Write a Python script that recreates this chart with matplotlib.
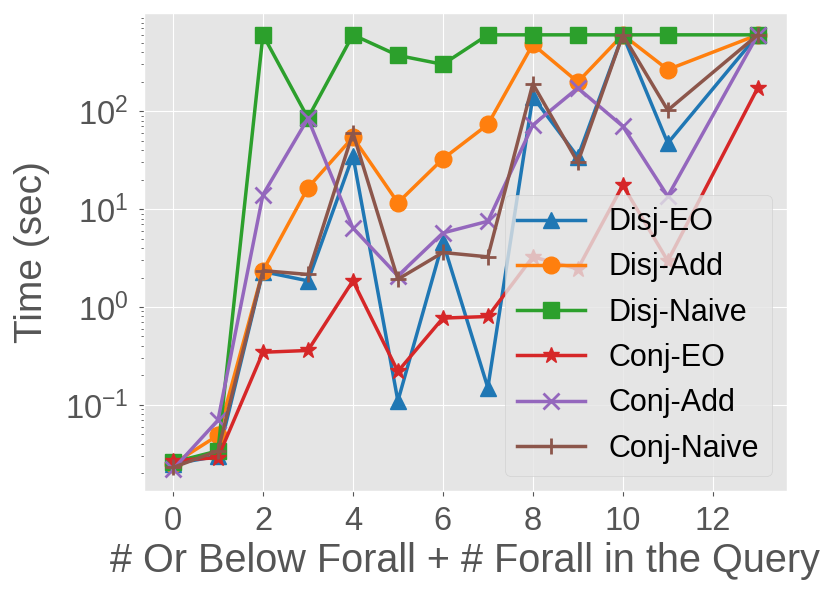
import numpy as np
import matplotlib
matplotlib.use('Agg')
import matplotlib.pyplot as plt

plt.style.use('ggplot')
plt.rcParams['font.family'] = ['Liberation Sans', 'DejaVu Sans']
plt.rcParams['mathtext.fontset'] = 'custom'
plt.rcParams['mathtext.rm'] = 'Liberation Sans'
plt.rcParams['mathtext.it'] = 'Liberation Sans:italic'

# x values (no query with 12)
x = [0, 1, 2, 3, 4, 5, 6, 7, 8, 9, 10, 11, 13]

disj_eo = [0.025, 0.030, 2.3, 1.85, 35, 0.11, 4.6, 0.15, 140, 34, 600, 47, 600]
disj_add = [0.025, 0.049, 2.35, 16.5, 54, 11.6, 32.5, 73, 480, 198, 600, 265, 600]
disj_naive = [0.026, 0.034, 600, 85, 600, 370, 300, 600, 600, 600, 600, 600, 600]
conj_eo = [0.027, 0.029, 0.345, 0.36, 1.85, 0.22, 0.77, 0.80, 3.25, 2.45, 17.5, 2.95, 172]
conj_add = [0.022, 0.070, 14, 84, 6.4, 2.08, 5.7, 7.5, 72, 172, 70, 13.5, 600]
conj_naive = [0.023, 0.034, 2.35, 2.15, 60, 1.92, 3.6, 3.25, 190, 30, 600, 102, 600]

series = [
    ('Disj-EO', disj_eo, '^', '#1f77b4'),
    ('Disj-Add', disj_add, 'o', '#ff7f0e'),
    ('Disj-Naive', disj_naive, 's', '#2ca02c'),
    ('Conj-EO', conj_eo, '*', '#d62728'),
    ('Conj-Add', conj_add, 'x', '#9467bd'),
    ('Conj-Naive', conj_naive, '+', '#8c564b'),
]

fig = plt.figure(figsize=(8.31, 5.96), dpi=100)
ax = fig.add_axes([0.173, 0.176, 0.774, 0.802])

for label, vals, m, c in series:
    ax.plot(x, vals, marker=m, color=c, label=label,
            linewidth=2.5, markersize=12, markeredgewidth=2 if m in 'x+' else 1)

ax.set_yscale('log')
ax.set_xticks([0, 2, 4, 6, 8, 10, 12])
ax.tick_params(axis='both', labelsize=23.5, colors='#555555', pad=7.5)
ax.set_xlabel('# Or Below Forall + # Forall in the Query', fontsize=28.5,
              color='#555555', labelpad=3)
ax.set_ylabel('Time (sec)', fontsize=28, color='#555555')
ax.yaxis.set_label_coords(-0.146, 0.5)
ax.legend(loc='lower right', fontsize=22, handlelength=2.2)

plt.savefig('out.png', dpi=100)
